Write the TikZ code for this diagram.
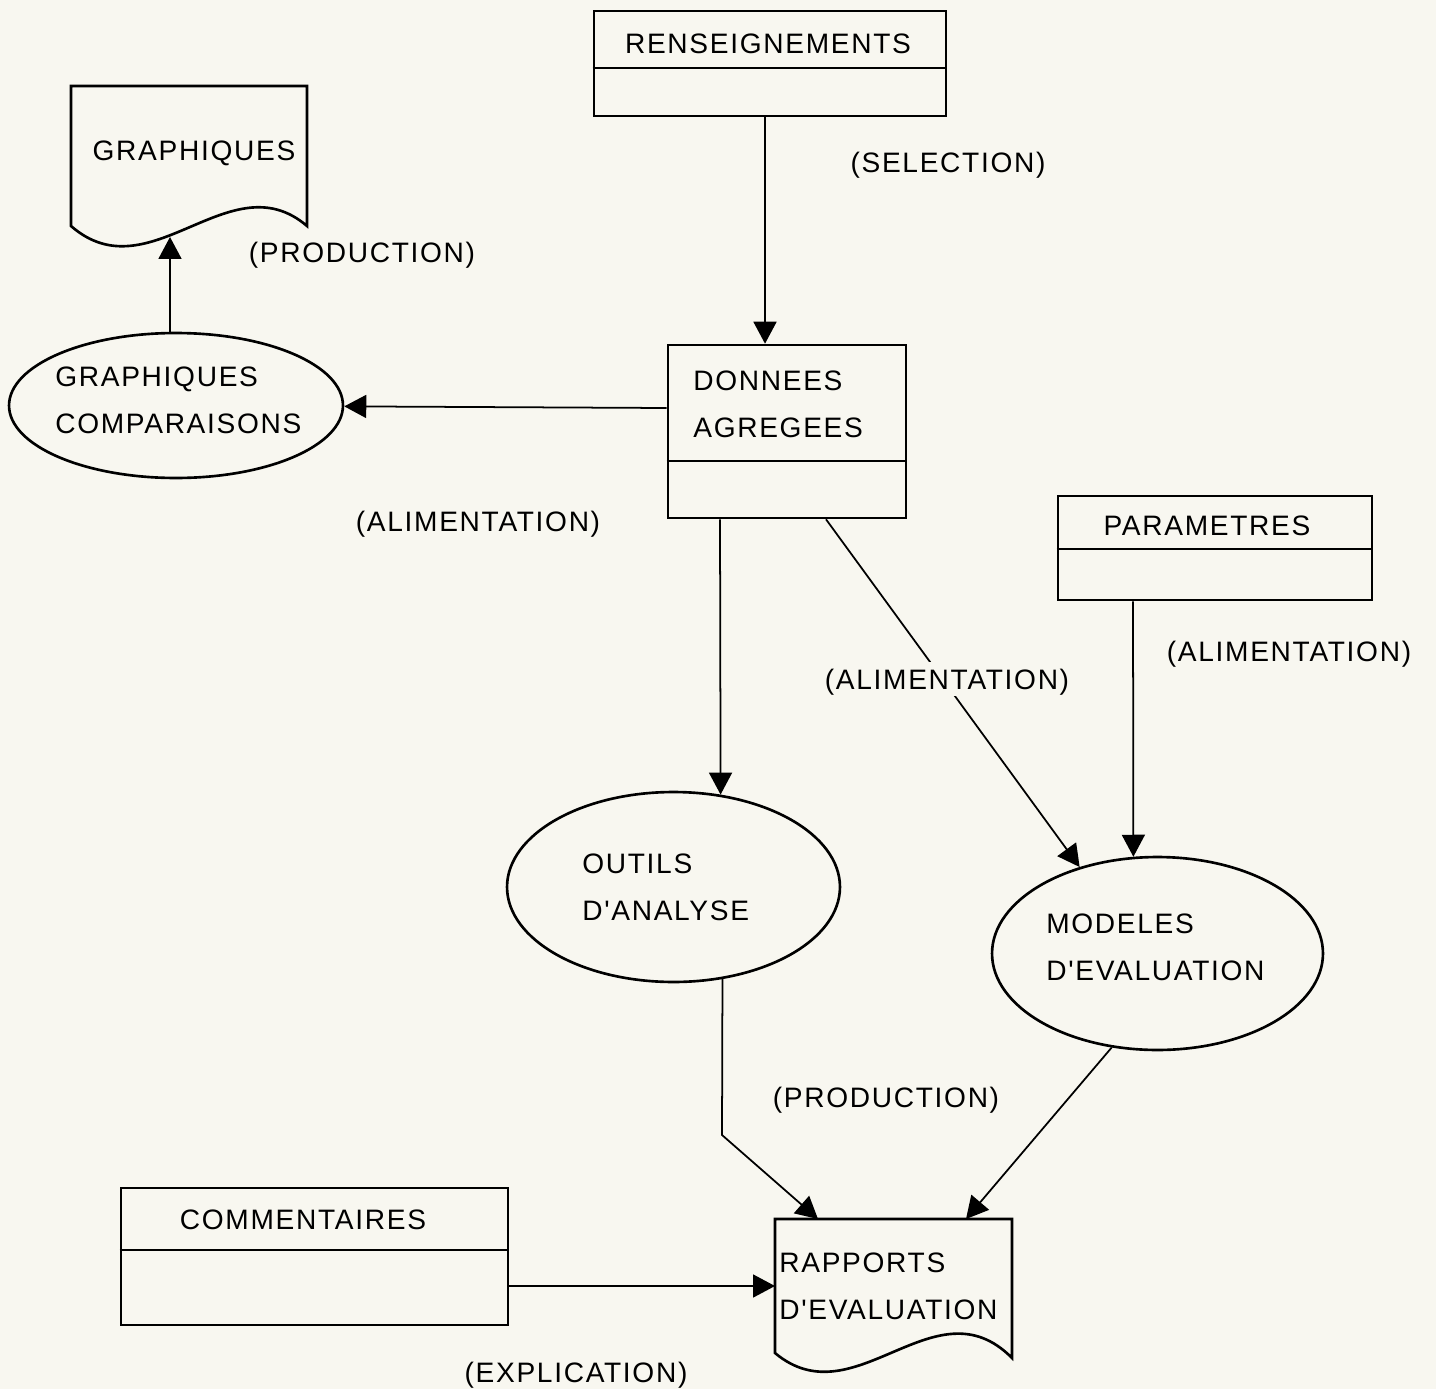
\documentclass[tikz,border=0pt]{standalone}
\usepackage{fontspec}
\setmainfont{Liberation Sans}[LetterSpace=6, Ligatures=TeXOff]
\usetikzlibrary{arrows.meta,shapes.geometric}
\definecolor{bg}{RGB}{248,247,240}
\begin{document}
\begin{tikzpicture}[x=0.02cm,y=-0.02cm,
  box/.style={draw, line width=1.5pt, rectangle, inner sep=0pt},
  oval/.style={draw, line width=1.5pt, ellipse, inner sep=0pt},
  outline/.style={line width=1.5pt, line join=miter},
  txt/.style={inner sep=0pt, font=\fontsize{16}{26.6}\selectfont, align=left},
  lbl/.style={txt, fill=bg, inner sep=4pt, text depth=0pt},
  flow/.style={line width=1pt, -{Triangle[length=0.44cm,width=0.46cm]}}]
\fill[bg] (0,0) rectangle (1436,1389);
\useasboundingbox (0,0) rectangle (1436,1389);

% record boxes
\node[box, minimum width=7.04cm, minimum height=2.1cm] (ren) at (770,63.5) {};
\draw[outline] (ren.west |- 0,68) -- (ren.east |- 0,68);
\node[txt] (ren-t) at (768,44) {RENSEIGNEMENTS};

\node[box, minimum width=4.76cm, minimum height=3.46cm] (don) at (787,431.5) {};
\draw[outline] (don.west |- 0,461) -- (don.east |- 0,461);
\node[txt, anchor=west] (don-t) at (693,404.5) {DONNEES\\AGREGEES};

\node[box, minimum width=6.28cm, minimum height=2.08cm] (par) at (1215,548) {};
\draw[outline] (par.west |- 0,549) -- (par.east |- 0,549);
\node[txt] (par-t) at (1207,526) {PARAMETRES};

\node[box, minimum width=7.74cm, minimum height=2.74cm] (com) at (314.5,1256.5) {};
\draw[outline] (com.west |- 0,1250) -- (com.east |- 0,1250);
\node[txt] (com-t) at (303,1220) {COMMENTAIRES};

% processes
\node[oval, minimum width=6.68cm, minimum height=2.9cm] (gc) at (176,405.5) {};
\node[txt, anchor=west] (gc-t) at (55,400) {GRAPHIQUES\\COMPARAISONS};

\node[oval, minimum width=6.66cm, minimum height=3.8cm] (out) at (673.5,887) {};
\node[txt, anchor=west] (out-t) at (582,887.5) {OUTILS\\D'ANALYSE};

\node[oval, minimum width=6.62cm, minimum height=3.86cm] (mod) at (1157.5,953.5) {};
\node[txt, anchor=west] (mod-t) at (1046,947) {MODELES\\D'EVALUATION};

% documents
\draw[outline] (307,226) -- (307,86) -- (71,86) -- (71,226)
  .. controls (150,295) and (230,160) .. (307,226) -- cycle;
\node[txt] (gra) at (194,153) {GRAPHIQUES};
\coordinate (gra-in) at (170,237);

\draw[outline] (1012,1358) -- (1012,1219) -- (775,1219) -- (775,1353)
  .. controls (855,1420) and (935,1280) .. (1012,1358) -- cycle;
\node[txt, anchor=west] (rap) at (779,1286) {RAPPORTS\\D'EVALUATION};
\coordinate (rap-a) at (818,1219);
\coordinate (rap-b) at (966,1219);
\coordinate (rap-w) at (775,1286);
\coordinate (bend) at (722,1135);

% connectors
\draw[flow] (ren.south -| 765,0) -- (don.north -| 765,0);
\draw[flow] (don.west |- 0,408) -- (gc);
\draw[flow] (gc.north -| 170,0) -- (gra-in);
\draw[flow] (don.south -| 720,0) -- (out.63);
\draw[flow] (don.south -| 826,0) -- (mod.132);
\draw[flow] (par.south -| 1133,0) -- (mod.104);
\draw[flow] (out.-62) -- (bend) -- (rap-a);
\draw[flow] (mod.-116) -- (rap-b);
\draw[flow] (com.east |- 0,1286) -- (rap-w);

% labels
\node[lbl] (l-sel) at (948,162) {(SELECTION)};
\node[lbl] (l-prod1) at (362,252) {(PRODUCTION)};
\node[lbl] (l-ali1) at (478,521) {(ALIMENTATION)};
\node[lbl] (l-ali2) at (947,679) {(ALIMENTATION)};
\node[lbl] (l-ali3) at (1289,651) {(ALIMENTATION)};
\node[lbl] (l-prod2) at (886,1097) {(PRODUCTION)};
\node[lbl] (l-exp) at (576,1372) {(EXPLICATION)};
\end{tikzpicture}
\end{document}
